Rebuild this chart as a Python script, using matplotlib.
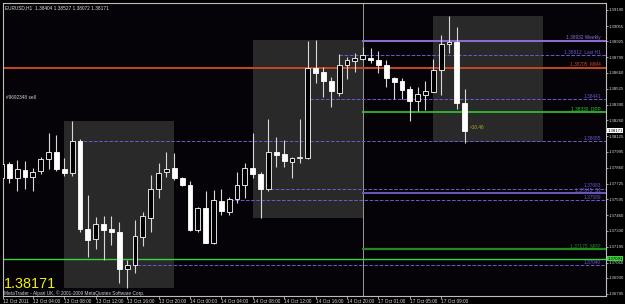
import numpy as np
import matplotlib.pyplot as plt
from matplotlib.patches import Rectangle

plt.rcParams['font.family'] = ['Liberation Sans', 'DejaVu Sans']

# EURUSD H1 candles
opens = [1.37773, 1.37891, 1.37773, 1.37841, 1.37782, 1.37832, 1.37933, 1.37992, 1.37849, 1.37815,
         1.38085, 1.37343, 1.37259, 1.37385, 1.37341, 1.37320, 1.37003, 1.37040, 1.37278, 1.37436,
         1.37680, 1.37824, 1.37855, 1.37771, 1.37714, 1.37335, 1.37518, 1.37223, 1.37582, 1.37489,
         1.37594, 1.37714, 1.37855, 1.37804, 1.37678, 1.37995, 1.37973, 1.37911, 1.37946, 1.37944,
         1.38703, 1.38665, 1.38594, 1.38488, 1.38729, 1.38762, 1.38779, 1.38788, 1.38768, 1.38726,
         1.38617, 1.38591, 1.38521, 1.38425, 1.38473, 1.38501, 1.38684, 1.38903, 1.38923, 1.38404]
highs = [1.37925, 1.37911, 1.37925, 1.37917, 1.37858, 1.37950, 1.38153, 1.38136, 1.37942, 1.38254,
         1.38102, 1.37630, 1.37444, 1.37453, 1.37453, 1.37405, 1.37082, 1.37419, 1.37489, 1.37799,
         1.37897, 1.37990, 1.37982, 1.37784, 1.37748, 1.37529, 1.37666, 1.37672, 1.37678, 1.37616,
         1.37826, 1.37902, 1.38150, 1.37826, 1.38268, 1.38122, 1.38094, 1.37950, 1.38268, 1.38929,
         1.38937, 1.38712, 1.38628, 1.38819, 1.38791, 1.38825, 1.38875, 1.38867, 1.38847, 1.38768,
         1.38628, 1.38614, 1.38549, 1.38543, 1.38594, 1.38774, 1.38979, 1.39139, 1.39044, 1.38527]
lows = [1.37714, 1.37731, 1.37666, 1.37680, 1.37666, 1.37807, 1.37849, 1.37832, 1.37790, 1.37790,
        1.37320, 1.37110, 1.37175, 1.37082, 1.37208, 1.36888, 1.36846, 1.36972, 1.37202, 1.37320,
        1.37602, 1.37779, 1.37756, 1.37706, 1.37329, 1.37320, 1.37223, 1.37217, 1.37461, 1.37461,
        1.37560, 1.37602, 1.37771, 1.37433, 1.37664, 1.37864, 1.37869, 1.37776, 1.37902, 1.37933,
        1.38572, 1.38459, 1.38375, 1.38467, 1.38606, 1.38670, 1.38768, 1.38741, 1.38656, 1.38538,
        1.38437, 1.38437, 1.38256, 1.38341, 1.38347, 1.38498, 1.38473, 1.38830, 1.38355, 1.38072]
closes = [1.37891, 1.37773, 1.37849, 1.37782, 1.37824, 1.37933, 1.37992, 1.37849, 1.37815, 1.38085,
          1.37343, 1.37250, 1.37385, 1.37335, 1.37320, 1.37003, 1.37040, 1.37284, 1.37455, 1.37680,
          1.37815, 1.37849, 1.37771, 1.37714, 1.37335, 1.37518, 1.37228, 1.37588, 1.37497, 1.37594,
          1.37714, 1.37855, 1.37807, 1.37678, 1.37995, 1.37967, 1.37917, 1.37939, 1.37950, 1.38698,
          1.38661, 1.38594, 1.38507, 1.38726, 1.38768, 1.38783, 1.38808, 1.38768, 1.38726, 1.38614,
          1.38585, 1.38515, 1.38425, 1.38479, 1.38507, 1.38684, 1.38903, 1.38923, 1.38404, 1.38171]

time_ticks = [0.2, 4, 8, 12, 16, 20, 24, 28, 32, 36, 40, 44, 48, 52, 56]
time_labels = ['12 Oct 2011', '13 Oct 04:00', '13 Oct 08:00', '13 Oct 12:00', '13 Oct 16:00',
               '13 Oct 20:00', '14 Oct 00:00', '14 Oct 04:00', '14 Oct 08:00', '14 Oct 12:00',
               '14 Oct 16:00', '14 Oct 20:00', '17 Oct 01:00', '17 Oct 05:00', '17 Oct 09:00']
price_ticks = [1.39190, 1.39055, 1.38925, 1.38790, 1.38660, 1.38525, 1.38390, 1.38260, 1.38125,
               1.37995, 1.37860, 1.37725, 1.37595, 1.37460, 1.37330, 1.37195, 1.37060, 1.36930, 1.36795]

# horizontal level objects: price, start bar, style, colour, width, label
levels = [
    (1.38932, 45.9, 'solid', '#8c6fd6', 1.4, '1.38932 Weekly'),
    (1.38812, 43.0, 'dashed', '#6a5acd', 0.7, '1.38812  Last H1'),
    (1.38705, 0.0, 'solid', '#c8461e', 1.4, '1.38705  MM4'),
    (1.38441, 39.3, 'dashed', '#6a5acd', 0.7, '1.38441'),
    (1.38330, 45.9, 'solid', '#2ec82e', 1.2, '1.38330  DPP'),
    (1.38085, 9.7, 'dashed', '#6a5acd', 0.7, '1.38085'),
    (1.37683, 34.2, 'dashed', '#6a5acd', 0.7, '1.37683'),
    (1.37645, 45.9, 'solid', '#6e58b8', 1.4, '1.37645  S1'),
    (1.37589, 29.1, 'dashed', '#6a5acd', 0.7, '1.37589'),
    (1.37173, 45.9, 'solid', '#1f8a1f', 1.6, '1.37175  MPP'),
    (1.37091, 0.0, 'solid', '#3cd23c', 1.0, ''),
    (1.37040, 17.3, 'dashed', '#6a5acd', 0.7, '1.37040'),
]

# shaded session boxes: bar from, bar to, price low, price high
boxes = [(7.96, 21.97, 1.36846, 1.38254),
         (32.0, 46.0, 1.37436, 1.38937),
         (54.95, 68.96, 1.38079, 1.39139)]

x = np.arange(len(opens))
o = np.array(opens)
h = np.array(highs)
l = np.array(lows)
c = np.array(closes)

fs = 3.4
fs_axis = 3.1

fig = plt.figure(figsize=(6.25, 3.04), dpi=100, facecolor='black')
ax = fig.add_axes([3 / 625, 8 / 304, 603 / 625, 293 / 304])
ax.set_facecolor('#050308')
ax.set_xlim(0.19, 76.99)
ax.set_ylim(1.367781, 1.39249)

for x0, x1, p0, p1 in boxes:
    ax.add_patch(Rectangle((x0, p0), x1 - x0, p1 - p0, facecolor='#292929', edgecolor='none', zorder=1))

ax.axvline(46.0, color='#9a9a9a', lw=0.7, zorder=2)

for price, start, ls, col, lw, lab in levels:
    ax.hlines(price, start, 76.99, colors=col, linestyles=ls, lw=lw, zorder=2)
    if lab:
        ax.text(76.3, price + 0.00002, lab, color=col, fontsize=fs, ha='right', va='bottom', zorder=3)

# candles: bearish = white body, bullish = black body with white outline
ax.vlines(x, l, h, colors='#d8d8d8', lw=0.8, zorder=3)
bull = c >= o
body = np.maximum(np.abs(c - o), 0.00002)
ax.bar(x[~bull], body[~bull], bottom=np.minimum(o, c)[~bull], width=0.62,
       color='white', edgecolor='white', lw=0.6, zorder=4)
ax.bar(x[bull], body[bull], bottom=np.minimum(o, c)[bull], width=0.62,
       color='black', edgecolor='white', lw=0.6, zorder=4)

ax.text(59.6, 1.38195, '<10.46', color='#b4a824', fontsize=fs, va='center', zorder=5)
ax.text(0.6, 1.38456, '#9692348 sell', color='#d0d0d0', fontsize=fs, va='center', zorder=5)

# axes styling
for sp in ax.spines.values():
    sp.set_color('#bdbdbd')
    sp.set_linewidth(0.8)
ax.yaxis.tick_right()
ax.set_yticks(price_ticks)
ax.set_yticklabels([f'{p:.5f}' for p in price_ticks])
ax.tick_params(axis='y', colors='#bdbdbd', labelcolor='#d8d8d8', labelsize=fs_axis, length=1.5, width=0.6, pad=0.5)
ax.set_xticks(time_ticks)
ax.set_xticklabels(time_labels)
ax.tick_params(axis='x', colors='#bdbdbd', labelcolor='#d8d8d8', labelsize=fs, length=2, width=0.6, pad=0.3)
for t in ax.get_xticklabels():
    t.set_horizontalalignment('left')

# current price marker and level marker on the price scale
ax.text(1.0025, closes[-1], f'{closes[-1]:.5f}', transform=ax.get_yaxis_transform(), fontsize=fs_axis,
        color='black', va='center', ha='left', bbox=dict(boxstyle='square,pad=0.12', fc='white', ec='none'),
        clip_on=False, zorder=6)
ax.text(1.0025, 1.37091, '1.37091', transform=ax.get_yaxis_transform(), fontsize=fs_axis,
        color='black', va='center', ha='left', bbox=dict(boxstyle='square,pad=0.12', fc='#3cd23c', ec='none'),
        clip_on=False, zorder=6)

fig.text(5 / 625, 1 - 8 / 304, 'EURUSD,H1  1.38404 1.38527 1.38072 1.38171', color='#e0e0e0', fontsize=fs,
         va='center', ha='left')
fig.text(4 / 625, 1 - 284 / 304, '1.38171', color='#f0f000', fontsize=10.4, va='center', ha='left')
fig.text(4 / 625, 1 - 293 / 304, 'MetaTrader - Alpari UK, \u00a9 2001-2009 MetaQuotes Software Corp.',
         color='#d0d0d0', fontsize=fs, va='center', ha='left')

fig.savefig('out.png', dpi=100, facecolor='black')
